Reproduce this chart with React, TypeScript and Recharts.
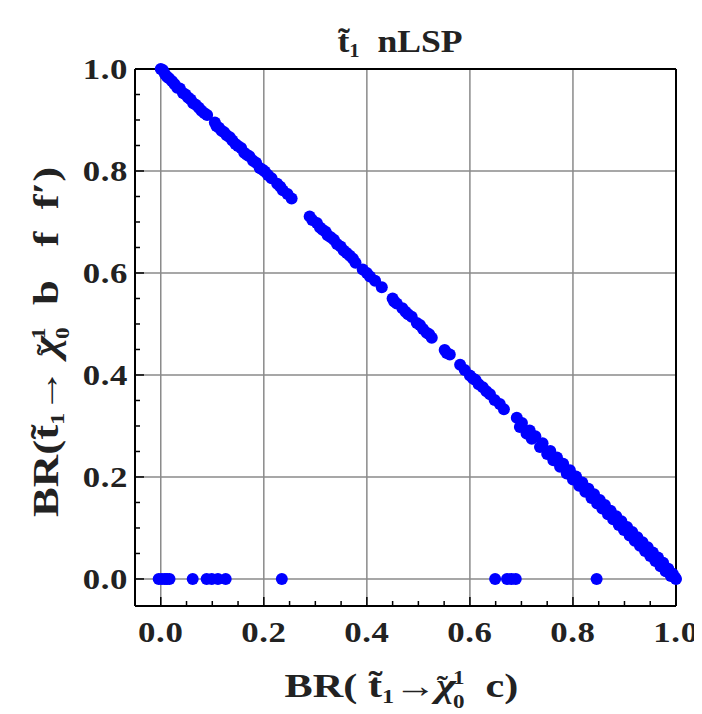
import React from "react";
import { ScatterChart, Scatter, XAxis, YAxis, CartesianGrid, Label } from "recharts";

// Points lying on the diagonal BR(c) + BR(b f f') ≈ 1
const diagonalX = [
  0.0, 0.004, 0.008, 0.012, 0.016, 0.022, 0.027, 0.032, 0.037, 0.043, 0.048, 0.053, 0.058, 0.063, 0.068, 0.074, 0.079, 0.085, 0.09,
  0.105, 0.108, 0.113, 0.118, 0.123, 0.128, 0.134, 0.139, 0.145, 0.15, 0.156, 0.162, 0.167, 0.172, 0.179, 0.185, 0.192, 0.197, 0.202, 0.208, 0.215,
  0.226, 0.232, 0.237, 0.246, 0.254,
  0.289, 0.294, 0.303, 0.309, 0.314, 0.32, 0.324, 0.33, 0.336, 0.342, 0.349, 0.355, 0.361, 0.367, 0.373, 0.378, 0.392, 0.4, 0.406, 0.416, 0.429,
  0.45, 0.453, 0.458, 0.469, 0.475, 0.48, 0.487, 0.497, 0.503, 0.509, 0.516, 0.521, 0.526,
  0.551, 0.555, 0.561, 0.581, 0.59, 0.6, 0.606, 0.611, 0.617, 0.625, 0.632, 0.639, 0.648, 0.658, 0.666,
  0.691, 0.697, 0.701, 0.71, 0.716, 0.72, 0.727, 0.736, 0.741, 0.75, 0.756, 0.762, 0.769, 0.775, 0.781, 0.788, 0.794, 0.8, 0.806, 0.812,
  0.818, 0.824, 0.83, 0.836, 0.841, 0.847, 0.852, 0.857, 0.862, 0.868, 0.873, 0.878, 0.884, 0.889, 0.894, 0.899, 0.905, 0.91, 0.915, 0.92,
  0.925, 0.93, 0.935, 0.94, 0.945, 0.95, 0.955, 0.96, 0.965, 0.97, 0.975, 0.98, 0.985, 0.99, 0.994, 0.998, 1.0,
];
const diagonalY = [
  1.0, 0.998, 0.99, 0.985, 0.982, 0.976, 0.97, 0.963, 0.962, 0.953, 0.95, 0.944, 0.94, 0.933, 0.93, 0.924, 0.918, 0.913, 0.91,
  0.895, 0.888, 0.885, 0.879, 0.876, 0.87, 0.866, 0.86, 0.853, 0.849, 0.845, 0.836, 0.832, 0.829, 0.82, 0.816, 0.806, 0.803, 0.799, 0.792, 0.786,
  0.775, 0.769, 0.762, 0.755, 0.746,
  0.711, 0.704, 0.698, 0.689, 0.685, 0.681, 0.674, 0.67, 0.665, 0.657, 0.652, 0.644, 0.639, 0.634, 0.628, 0.62, 0.607, 0.6, 0.593, 0.585, 0.572,
  0.55, 0.544, 0.54, 0.531, 0.524, 0.519, 0.514, 0.502, 0.498, 0.49, 0.483, 0.48, 0.473,
  0.449, 0.443, 0.44, 0.42, 0.41, 0.399, 0.393, 0.39, 0.382, 0.376, 0.368, 0.362, 0.351, 0.343, 0.333,
  0.316, 0.298, 0.306, 0.285, 0.291, 0.275, 0.28, 0.259, 0.266, 0.245, 0.251, 0.233, 0.238, 0.22, 0.226, 0.207, 0.213, 0.195, 0.201, 0.183,
  0.189, 0.171, 0.177, 0.159, 0.166, 0.148, 0.155, 0.138, 0.145, 0.127, 0.134, 0.117, 0.123, 0.106, 0.113, 0.096, 0.102, 0.085, 0.092, 0.075,
  0.082, 0.065, 0.072, 0.055, 0.062, 0.045, 0.052, 0.035, 0.042, 0.025, 0.032, 0.015, 0.02, 0.006, 0.01, 0.003, 0.0,
];

// Points with BR(b f f') = 0
const floorX = [-0.004, 0.002, 0.008, 0.012, 0.017, 0.062, 0.089, 0.099, 0.111, 0.126, 0.235, 0.649, 0.672, 0.681, 0.689, 0.846];
const floorY = [0, 0, 0, 0, 0, 0, 0, 0, 0, 0, 0, 0, 0, 0, 0, 0];

const allTicks = [0, 0.05, 0.1, 0.15, 0.2, 0.25, 0.3, 0.35, 0.4, 0.45, 0.5, 0.55, 0.6, 0.65, 0.7, 0.75, 0.8, 0.85, 0.9, 0.95, 1.0];
const gridValues = [0, 0.2, 0.4, 0.6, 0.8];

const xDomain: [number, number] = [-0.05, 1.0];
const yDomain: [number, number] = [-0.053, 1.0];

const points = [
  ...diagonalX.map((x, i) => ({ x, y: diagonalY[i] })),
  ...floorX.map((x, i) => ({ x, y: floorY[i] })),
];

const FONT = "'Liberation Serif', 'Times New Roman', serif";
const TICK_FONT_SIZE = 29;
const TEXT_COLOR = "#222";
const NB = "\u00a0";

const isMajor = (v: number) => Math.abs(v * 5 - Math.round(v * 5)) < 1e-6;

const TickText = ({ x, y, anchor, children }: any) => (
  <text
    transform={`translate(${x}, ${y}) scale(1.2, 1)`}
    x={0}
    y={0}
    textAnchor={anchor}
    fontFamily={FONT}
    fontWeight="bold"
    fontSize={TICK_FONT_SIZE}
    letterSpacing={0.5}
    fill={TEXT_COLOR}
  >
    {children}
  </text>
);

const BottomTick = (props: any) => {
  const { x, y, payload } = props;
  const v = payload.value as number;
  const major = isMajor(v);
  return (
    <g>
      <line x1={x} y1={y} x2={x} y2={y - (major ? 9 : 5)} stroke="#000" strokeWidth={1.5} />
      {major && <TickText x={x} y={y + 36} anchor="middle">{v.toFixed(1)}</TickText>}
    </g>
  );
};

const TopTick = (props: any) => {
  const { x, y, payload } = props;
  const major = isMajor(payload.value);
  return <line x1={x} y1={y} x2={x} y2={y + (major ? 9 : 5)} stroke="#000" strokeWidth={1.5} />;
};

const LeftTick = (props: any) => {
  const { x, y, payload } = props;
  const v = payload.value as number;
  const major = isMajor(v);
  return (
    <g>
      <line x1={x} y1={y} x2={x + (major ? 9 : 5)} y2={y} stroke="#000" strokeWidth={1.5} />
      {major && <TickText x={x - 7} y={y + 10} anchor="end">{v.toFixed(1)}</TickText>}
    </g>
  );
};

const RightTick = (props: any) => {
  const { x, y, payload } = props;
  const major = isMajor(payload.value);
  return <line x1={x} y1={y} x2={x - (major ? 9 : 5)} y2={y} stroke="#000" strokeWidth={1.5} />;
};

// Tilde-over-chi followed by stacked superscript 1 and subscript 0
const ChiPart = () => (
  <>
    <tspan fontStyle="italic">{"\u03c7"}</tspan>
    <tspan dx={-15} dy={-3} fontSize={26}>{"\u02dc"}</tspan>
    <tspan fontSize={18} dx={4} dy={-10}>1</tspan>
    <tspan fontSize={18} dx={-9} dy={24}>0</tspan>
  </>
);

const XTitleContent = (props: any) => {
  const vb = props.viewBox || { x: 0, y: 0, width: 0 };
  const cx = vb.x + vb.width / 2 - 4;
  const cy = vb.y + 91;
  return (
    <text
      transform={`translate(${cx}, ${cy}) scale(1.28, 1)`}
      x={0}
      y={0}
      textAnchor="middle"
      fontFamily={FONT}
      fontWeight="bold"
      fontSize={33}
      fill={TEXT_COLOR}
    >
      <tspan>{"BR( t\u0303"}</tspan>
      <tspan fontSize={19} dy={6}>1</tspan>
      <tspan dy={-6}>{"\u2192"}</tspan>
      <ChiPart />
      <tspan dy={-11}>{NB + NB + "c)"}</tspan>
    </text>
  );
};

const YTitleContent = (props: any) => {
  const vb = props.viewBox || { x: 0, y: 0, width: 0, height: 0 };
  const plotLeft = vb.x + vb.width;
  const sx = vb.x + 23;
  const sy = vb.y + 448;
  return (
    <g>
      <text
        transform={`translate(${sx}, ${sy}) rotate(-90) scale(1.28, 1)`}
        x={0}
        y={0}
        textAnchor="start"
        fontFamily={FONT}
        fontWeight="bold"
        fontSize={35}
        fill={TEXT_COLOR}
      >
        <tspan>{"BR(t\u0303"}</tspan>
        <tspan fontSize={19} dy={6}>1</tspan>
        <tspan dy={-6}>{"\u2192" + NB}</tspan>
        <ChiPart />
        <tspan dy={-11}>{NB + NB + "b" + NB + NB + NB + "f" + NB + NB + "f\u2032)"}</tspan>
      </text>
      <text
        transform={`translate(${plotLeft + 265}, ${vb.y - 17}) scale(1.15, 1)`}
        x={0}
        y={0}
        textAnchor="middle"
        fontFamily={FONT}
        fontWeight="bold"
        fontSize={31}
        fill={TEXT_COLOR}
      >
        <tspan>{"t\u0303"}</tspan>
        <tspan fontSize={18} dy={5}>1</tspan>
        <tspan dy={-5}>{NB + NB + "nLSP"}</tspan>
      </text>
    </g>
  );
};

const Dot = (props: any) => {
  const { cx, cy } = props;
  if (cx == null || cy == null) return null;
  return <circle cx={cx} cy={cy} r={6} fill="#0000ff" />;
};

export default function App() {
  return (
    <div style={{ width: 694, height: 706, background: "#fff" }}>
      <ScatterChart width={694} height={706} margin={{ top: 60, right: 25, bottom: 8, left: 27 }}>
        <CartesianGrid
          xAxisId="b"
          yAxisId="l"
          stroke="#8a8a8a"
          strokeWidth={1.5}
          verticalValues={gridValues}
          horizontalValues={gridValues}
        />
        <XAxis
          xAxisId="b"
          type="number"
          dataKey="x"
          domain={xDomain}
          ticks={allTicks}
          interval={0}
          orientation="bottom"
          height={100}
          tickSize={0}
          tickMargin={0}
          tickLine={false}
          tick={<BottomTick />}
          axisLine={{ stroke: "#000", strokeWidth: 2 }}
        >
          <Label content={<XTitleContent />} />
        </XAxis>
        <XAxis
          xAxisId="t"
          type="number"
          dataKey="x"
          domain={xDomain}
          ticks={allTicks}
          interval={0}
          orientation="top"
          height={1}
          tickSize={0}
          tickMargin={0}
          tickLine={false}
          tick={<TopTick />}
          axisLine={{ stroke: "#000", strokeWidth: 2 }}
        />
        <YAxis
          yAxisId="l"
          type="number"
          dataKey="y"
          domain={yDomain}
          ticks={allTicks}
          interval={0}
          orientation="left"
          width={100}
          tickSize={0}
          tickMargin={0}
          tickLine={false}
          tick={<LeftTick />}
          axisLine={{ stroke: "#000", strokeWidth: 2 }}
        >
          <Label content={<YTitleContent />} />
        </YAxis>
        <YAxis
          yAxisId="r"
          type="number"
          dataKey="y"
          domain={yDomain}
          ticks={allTicks}
          interval={0}
          orientation="right"
          width={1}
          tickSize={0}
          tickMargin={0}
          tickLine={false}
          tick={<RightTick />}
          axisLine={{ stroke: "#000", strokeWidth: 2 }}
        />
        <Scatter
          data={points}
          xAxisId="b"
          yAxisId="l"
          shape={<Dot />}
          isAnimationActive={false}
        />
      </ScatterChart>
    </div>
  );
}
